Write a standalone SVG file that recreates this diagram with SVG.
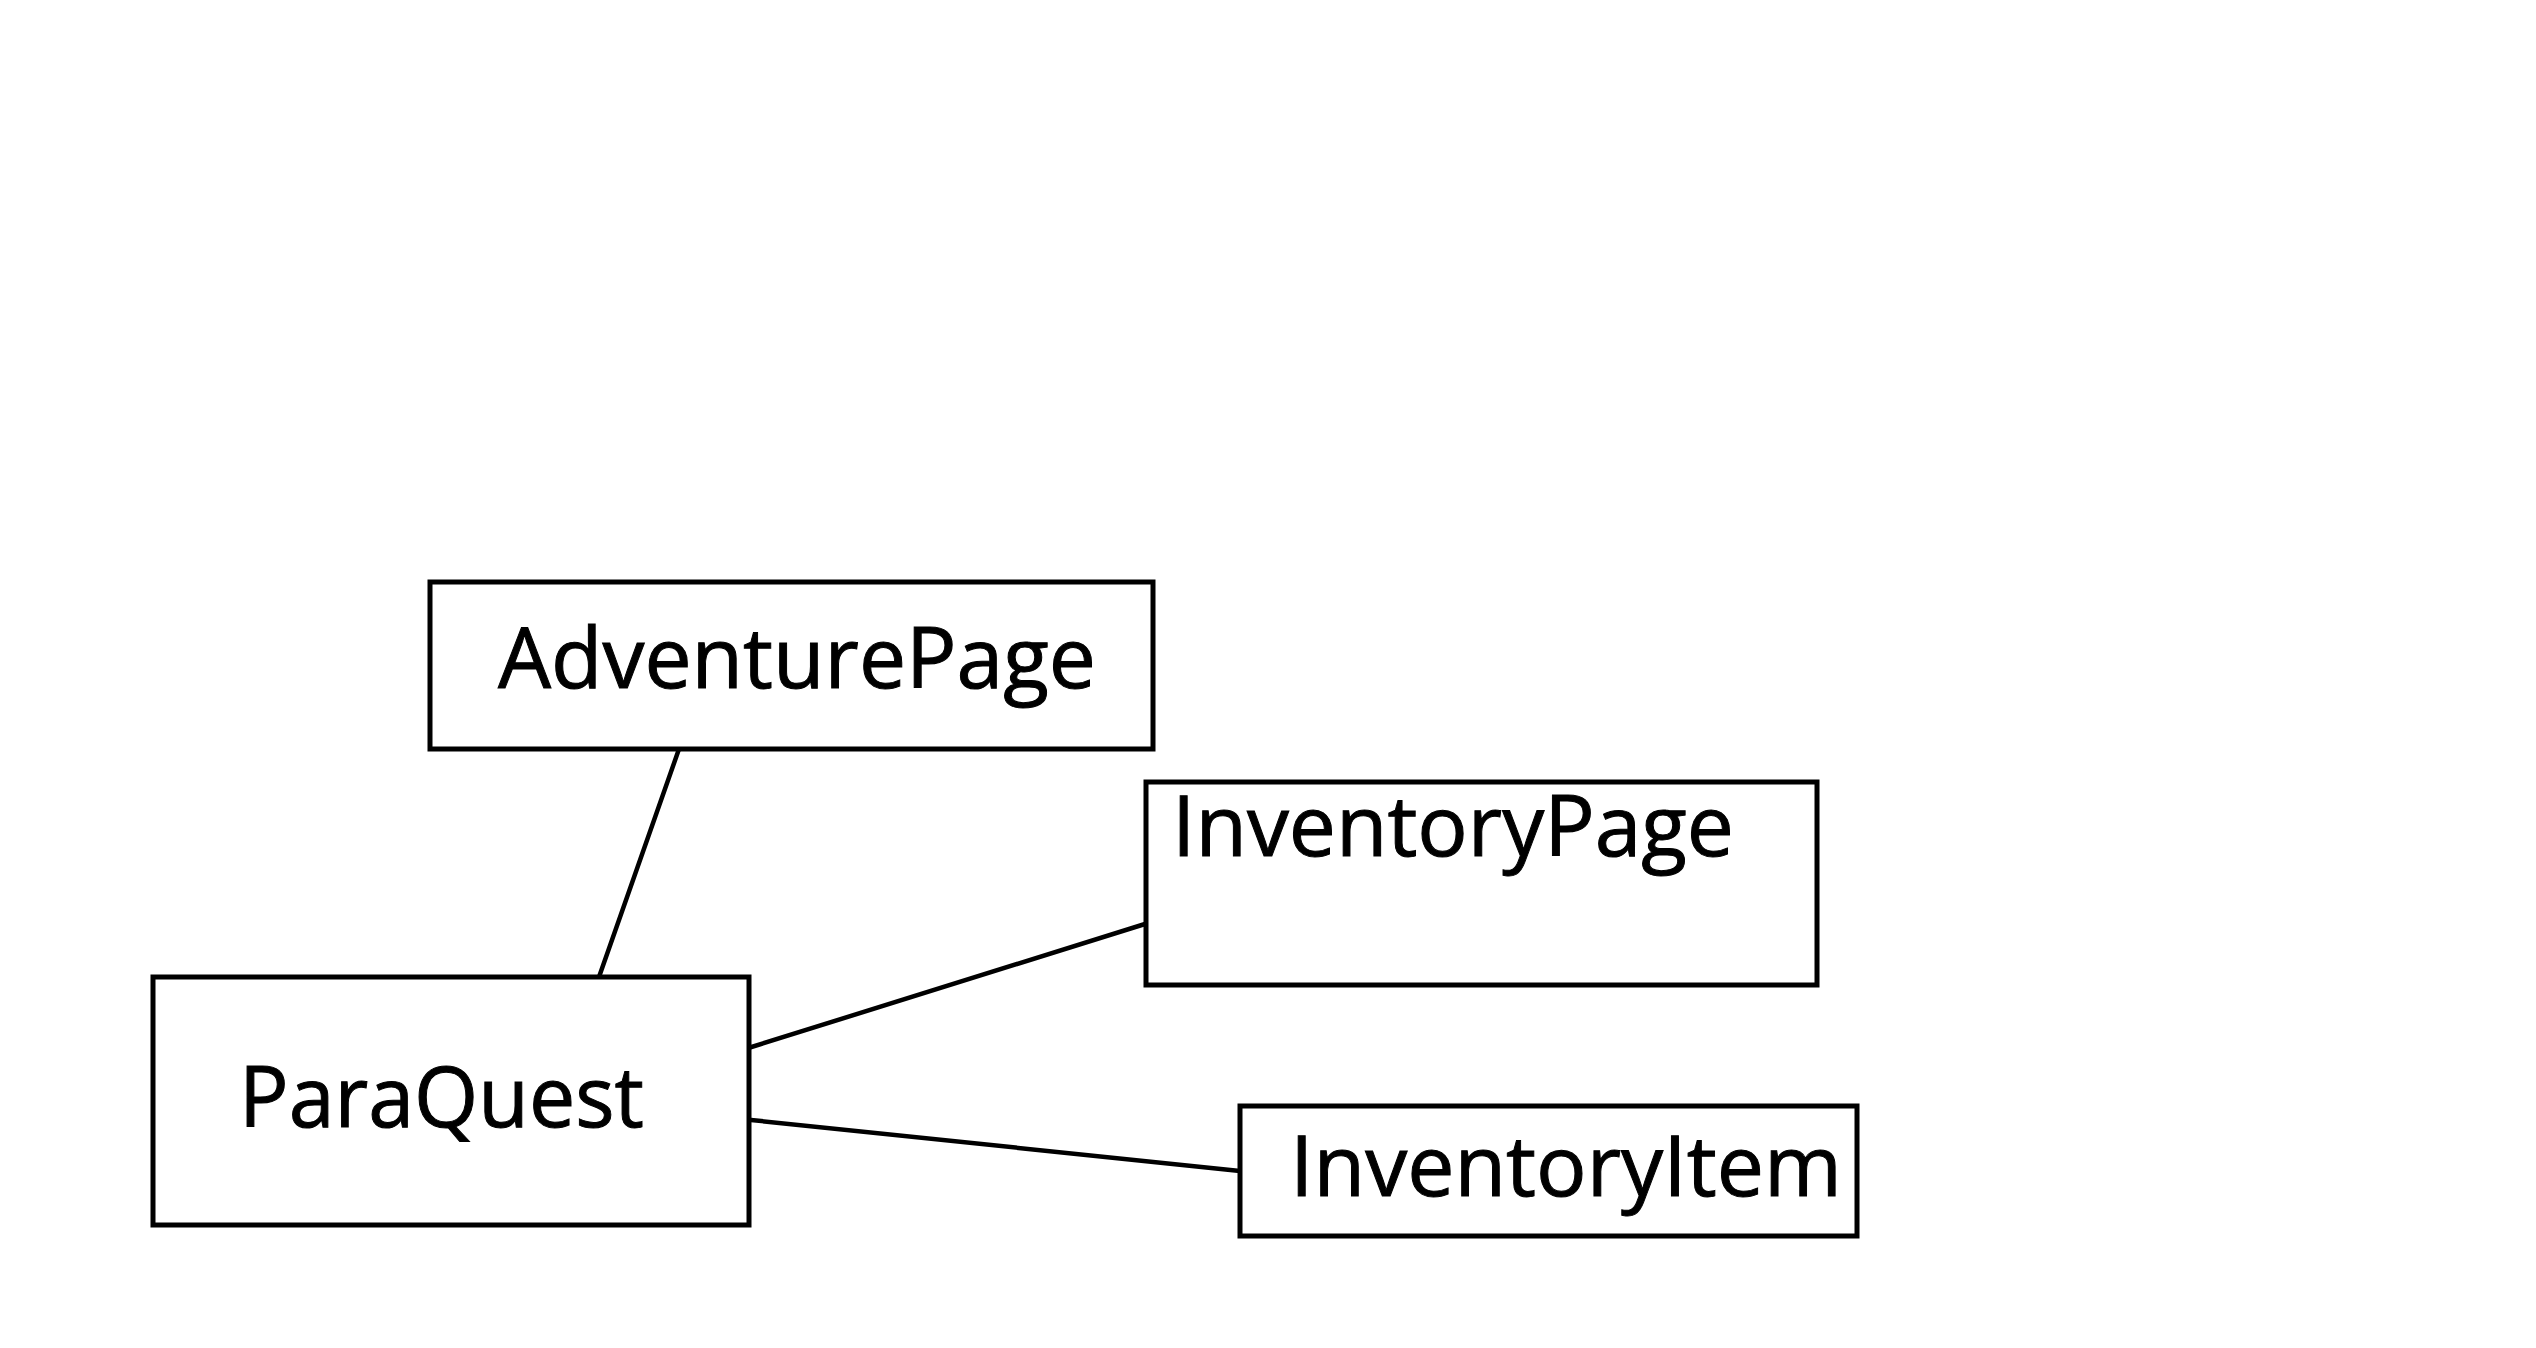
<svg xmlns="http://www.w3.org/2000/svg" width="2536" height="1348" viewBox="0 0 2536 1348">
<style>
.box{fill:#fff;stroke:#000;stroke-width:5}
.lbl{font-family:"Open Sans","Noto Sans","Liberation Sans",sans-serif;font-size:85px;fill:#000;stroke:#000;stroke-width:1}
.conn{stroke:#000;stroke-width:4.5;fill:none;stroke-linecap:round}
</style>
<rect width="2536" height="1348" fill="#fff"/>
<g id="connectors">
<line class="conn" x1="679" y1="749" x2="599" y2="977"/>
<line class="conn" x1="745" y1="1049" x2="1145" y2="924"/>
<line class="conn" x1="751" y1="1120" x2="1240" y2="1171"/>
</g>
<g id="AdventurePage">
<rect class="box" x="430" y="582" width="723" height="167"/>
<text class="lbl" x="498" y="688" textLength="598" lengthAdjust="spacingAndGlyphs">AdventurePage</text>
</g>
<g id="ParaQuest">
<rect class="box" x="153" y="977" width="596" height="248"/>
<text class="lbl" x="239" y="1127" textLength="405" lengthAdjust="spacingAndGlyphs">ParaQuest</text>
</g>
<g id="InventoryPage">
<rect class="box" x="1146" y="782" width="671" height="203"/>
<text class="lbl" x="1172" y="856" textLength="562" lengthAdjust="spacingAndGlyphs">InventoryPage</text>
</g>
<g id="InventoryItem">
<rect class="box" x="1240" y="1106" width="617" height="130"/>
<text class="lbl" x="1290" y="1196" textLength="552" lengthAdjust="spacingAndGlyphs">InventoryItem</text>
</g>
</svg>
